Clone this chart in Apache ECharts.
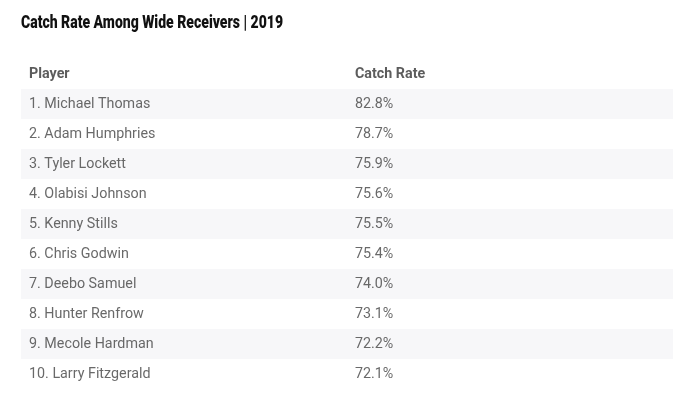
<!DOCTYPE html>
<html><head><meta charset="utf-8">
<script src="https://cdn.jsdelivr.net/npm/echarts@6/dist/echarts.min.js"></script>
<style>html,body{margin:0;padding:0;background:#fff}#c{width:700px;height:415px}</style>
</head><body><div id="c"></div>
<script>
const title = 'Catch Rate Among Wide Receivers | 2019';
const headers = ['Player', 'Catch Rate'];
const players = ['Michael Thomas','Adam Humphries','Tyler Lockett','Olabisi Johnson','Kenny Stills','Chris Godwin','Deebo Samuel','Hunter Renfrow','Mecole Hardman','Larry Fitzgerald'];
const catchRates = [82.8, 78.7, 75.9, 75.6, 75.5, 75.4, 74.0, 73.1, 72.2, 72.1];

const rows = ['header'].concat(players.map((p,i)=>(i+1)+'. '+p));
const colX = [8, 334];
const W = 652;

const bandData = rows.map((r,i)=>({value: W, itemStyle:{color: (i>0 && i%2===1) ? '#f7f7f9' : 'rgba(0,0,0,0)'}}));
const nameData = rows.map((r,i)=>({value:[colX[0], r], label:{formatter: i===0 ? headers[0] : r, fontWeight: i===0?'bold':'normal', color: i===0?'#333':'#444'}}));
const rateData = rows.map((r,i)=>({value:[colX[1], r], label:{formatter: i===0 ? headers[1] : catchRates[i-1].toFixed(1)+'%', fontWeight: i===0?'bold':'normal', color: i===0?'#333':'#444'}}));

const titleFont = '900 19px Roboto';
const cv = document.createElement('canvas').getContext('2d');
cv.font = titleFont;
const tw = cv.measureText(title).width;
const sx = 262 / tw;

const chart = echarts.init(document.getElementById('c'), null, {renderer:'canvas'});
const lbl = {show:true, position:'right', distance:0, fontFamily:'Roboto', fontSize:14.3};
chart.setOption({
  animation:false,
  graphic:[{type:'text', left:21, top:14, scaleX:sx, originX:0,
    style:{text:title, font:titleFont, fill:'#111'}}],
  grid:{left:21, right:27, top:59, bottom:26},
  xAxis:{type:'value', min:0, max:W, show:false},
  yAxis:{type:'category', data:rows, inverse:true, show:false},
  series:[
    {type:'bar', data:bandData, barWidth:'100%', silent:true},
    {type:'scatter', data:nameData, symbolSize:0, label:lbl},
    {type:'scatter', data:rateData, symbolSize:0, label:lbl}
  ]
});
</script></body></html>
